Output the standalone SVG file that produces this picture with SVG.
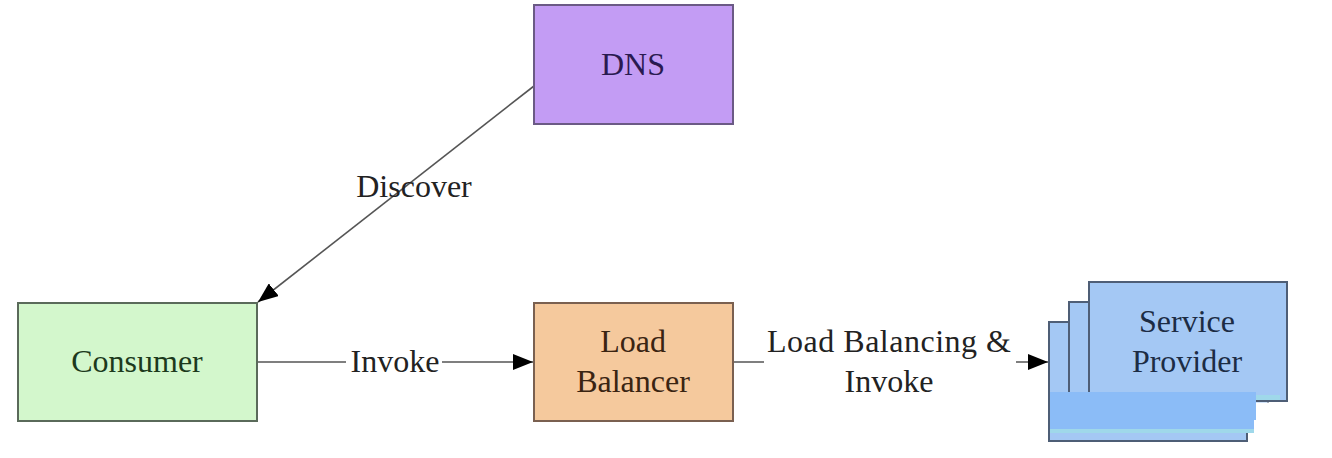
<svg xmlns="http://www.w3.org/2000/svg" width="1332" height="458" viewBox="0 0 1332 458">
<defs>
<marker id="arr" viewBox="0 0 20 16" refX="20" refY="8" markerWidth="20" markerHeight="16" markerUnits="userSpaceOnUse" orient="auto">
<path d="M0,0 L20,8 L0,16 Z" fill="#000"/>
</marker>
</defs>
<style>
.t{font-family:"Liberation Serif","Times New Roman",serif;font-size:32px;text-anchor:middle}
.box{stroke-width:2}
.sp{fill:#a4c8f4;stroke:#4e5e76;stroke-width:2}
.edge{stroke:#555;stroke-width:1.6;fill:none}
</style>
<rect width="1332" height="458" fill="#fff"/>
<g id="connectors">
<line class="edge" x1="534" y1="86" x2="258" y2="302" marker-end="url(#arr)"/>
<text class="t" x="414" y="197" fill="#222">Discover</text>
<line class="edge" x1="257" y1="362" x2="533" y2="362" marker-end="url(#arr)"/>
<rect x="346" y="345" width="96" height="34" fill="#fff"/>
<text class="t" x="395" y="372" fill="#222">Invoke</text>
<line class="edge" x1="733" y1="362" x2="1048" y2="362" marker-end="url(#arr)"/>
<rect x="764" y="322" width="252" height="76" fill="#fff"/>
<text class="t" x="889" y="352" fill="#222" textLength="244">Load Balancing &amp;</text>
<text class="t" x="889" y="392" fill="#222">Invoke</text>
</g>
<g id="dns">
<rect class="box" x="534" y="5" width="199" height="119" fill="#c39cf4" stroke="#6b5a85"/>
<text class="t" x="633" y="75" fill="#2a1a50">DNS</text>
</g>
<g id="consumer">
<rect class="box" x="18" y="303" width="239" height="118" fill="#d3f7cc" stroke="#5a6a5a"/>
<text class="t" x="137" y="372" fill="#1c3a1c">Consumer</text>
</g>
<g id="load-balancer">
<rect class="box" x="534" y="303" width="199" height="118" fill="#f5c99d" stroke="#7a6050"/>
<text class="t" x="633" y="352" fill="#3a2412">Load</text>
<text class="t" x="633" y="392" fill="#3a2412">Balancer</text>
</g>
<g id="service-provider">
<rect class="sp" x="1049" y="322" width="198" height="119"/>
<rect class="sp" x="1069" y="302" width="199" height="119"/>
<rect class="sp" x="1089" y="282" width="198" height="119"/>
<text class="t" x="1187" y="332" fill="#1c2c44">Service</text>
<text class="t" x="1187" y="372" fill="#1c2c44">Provider</text>
</g>
<rect x="1249" y="402.5" width="45" height="27" fill="#fff"/>
<rect x="1256" y="395" width="24" height="5" fill="#9fd8ea"/>
<rect x="1050" y="429" width="204" height="4" fill="#9fd8ea"/>
<rect x="1050" y="392" width="206" height="28" fill="#8bbcf7"/>
<rect x="1050" y="420" width="204" height="9" fill="#8bbcf7"/>
</svg>
